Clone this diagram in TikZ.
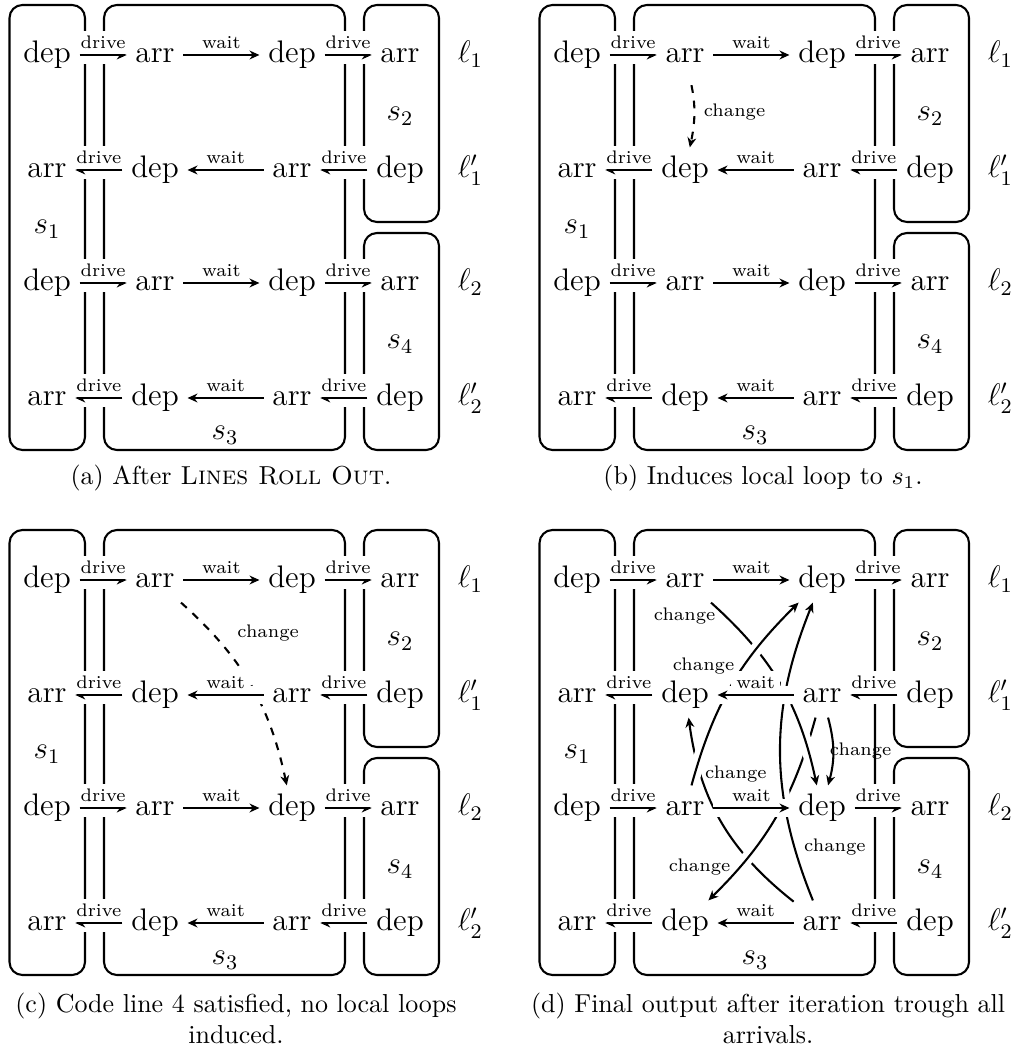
\documentclass[tikz,border=0pt]{standalone}
\usetikzlibrary{arrows.meta}
\tikzset{
  ev/.style={font=\large, text height=8.3pt, text depth=2.3pt, inner sep=3pt},
  lbl/.style={font=\scriptsize, fill=white, inner sep=2pt},
  chg/.style={font=\scriptsize},
  grp/.style={rounded corners=5pt},
  whiteback/.style={preaction={draw=white, solid, -, line width=#1}},
  whiteback/.default=5pt
}

\newcommand{\drawpanel}[1]{%
\draw[grp] (9.5,-5) rectangle (85,-450);
\draw[grp] (104,-5) rectangle (345,-450);
\draw[grp] (364,-5) rectangle (439,-222);
\draw[grp] (364,-233) rectangle (439,-450);
\node[ev] (#1-1-1) at (47,-55) {dep};
\node[ev] (#1-1-2) at (155,-55) {arr};
\node[ev] (#1-1-3) at (292,-55) {dep};
\node[ev] (#1-1-4) at (400,-55) {arr};
\node[ev] (#1-2-1) at (47,-170) {arr};
\node[ev] (#1-2-2) at (155,-170) {dep};
\node[ev] (#1-2-3) at (292,-170) {arr};
\node[ev] (#1-2-4) at (400,-170) {dep};
\node[ev] (#1-3-1) at (47,-283) {dep};
\node[ev] (#1-3-2) at (155,-283) {arr};
\node[ev] (#1-3-3) at (292,-283) {dep};
\node[ev] (#1-3-4) at (400,-283) {arr};
\node[ev] (#1-4-1) at (47,-398) {arr};
\node[ev] (#1-4-2) at (155,-398) {dep};
\node[ev] (#1-4-3) at (292,-398) {arr};
\node[ev] (#1-4-4) at (400,-398) {dep};
\node[ev] (#1-s1) at (47,-226) {$s_1$};
\node[ev] (#1-s2) at (400,-113) {$s_2$};
\node[ev] (#1-s3) at (225,-432) {$s_3$};
\node[ev] (#1-s4) at (400,-341) {$s_4$};
\node[ev,anchor=west] (#1-l1) at (449,-55) {$\ell_1$};
\node[ev,anchor=west] (#1-l1p) at (449,-170) {$\ell_1'$};
\node[ev,anchor=west] (#1-l2) at (449,-283) {$\ell_2$};
\node[ev,anchor=west] (#1-l2p) at (449,-398) {$\ell_2'$};
}

\newcommand{\drawlines}[1]{%
\draw[->,whiteback=7pt] (#1-1-1) -- node[lbl,above] {drive} (#1-1-2);
\draw[->,whiteback=7pt] (#1-1-2) -- node[lbl,above] {wait} (#1-1-3);
\draw[->,whiteback=7pt] (#1-1-3) -- node[lbl,above] {drive} (#1-1-4);
\draw[->,whiteback=7pt] (#1-2-4) -- node[lbl,above] {drive} (#1-2-3);
\draw[->,whiteback=7pt] (#1-2-3) -- node[lbl,above] {wait} (#1-2-2);
\draw[->,whiteback=7pt] (#1-2-2) -- node[lbl,above] {drive} (#1-2-1);
\draw[->,whiteback=7pt] (#1-3-1) -- node[lbl,above] {drive} (#1-3-2);
\draw[->,whiteback=7pt] (#1-3-2) -- node[lbl,above] {wait} (#1-3-3);
\draw[->,whiteback=7pt] (#1-3-3) -- node[lbl,above] {drive} (#1-3-4);
\draw[->,whiteback=7pt] (#1-4-4) -- node[lbl,above] {drive} (#1-4-3);
\draw[->,whiteback=7pt] (#1-4-3) -- node[lbl,above] {wait} (#1-4-2);
\draw[->,whiteback=7pt] (#1-4-2) -- node[lbl,above] {drive} (#1-4-1);
}

\begin{document}
\begin{tikzpicture}[x=0.385pt,y=0.385pt,thick,>={Stealth[length=3.8pt,width=3.4pt,inset=1.2pt]}]
\useasboundingbox (0,0) rectangle (1015,-1053);

\drawpanel{a}
\drawlines{a}
\node (capa) at (231,-478) {(a) After \textsc{Lines Roll Out}.};

\begin{scope}[shift={(530,0)}]
\drawpanel{b}
\draw[->,dashed,shorten <=3pt] (b-1-2) to[bend left=12] node[chg,right] {change} (b-2-2);
\drawlines{b}
\node (capb) at (233,-478) {(b) Induces local loop to $s_1$.};
\end{scope}

\begin{scope}[shift={(0,-525)}]
\drawpanel{c}
\draw[->,dashed] (c-1-2) to[bend left=18] node[chg,pos=0.3,auto] {change} (c-3-3);
\drawlines{c}
\node[align=center] (capc) at (236,-493) {(c) Code line 4 satisfied, no local loops\\induced.};
\end{scope}

\begin{scope}[shift={(530,-525)}]
\drawpanel{d}
\draw[->,whiteback] (d-4-3) to[bend left=22] node[chg,pos=0.75,right=-2pt] {change} (d-2-2);
\draw[->,whiteback] (d-2-3) to[bend left=15] node[chg,pos=0.8,left] {change} (d-4-2);
\draw[->,whiteback] (d-1-2) to[bend left=18] node[chg,pos=0.08,left] {change} (d-3-3);
\draw[->,whiteback] (d-3-2) to[bend left=15] node[chg,pos=0.62,left] {change} (d-1-3);
\draw[->,whiteback] (d-4-3) to[bend left=22] node[chg,pos=0.17,right] {change} (d-1-3);
\draw[->,whiteback] (d-2-3) to[bend left=15] node[chg,right=-5pt] {change} (d-3-3);
\drawlines{d}
\node[align=center] (capd) at (238,-493) {(d) Final output after iteration trough all\\arrivals.};
\end{scope}
\end{tikzpicture}
\end{document}
